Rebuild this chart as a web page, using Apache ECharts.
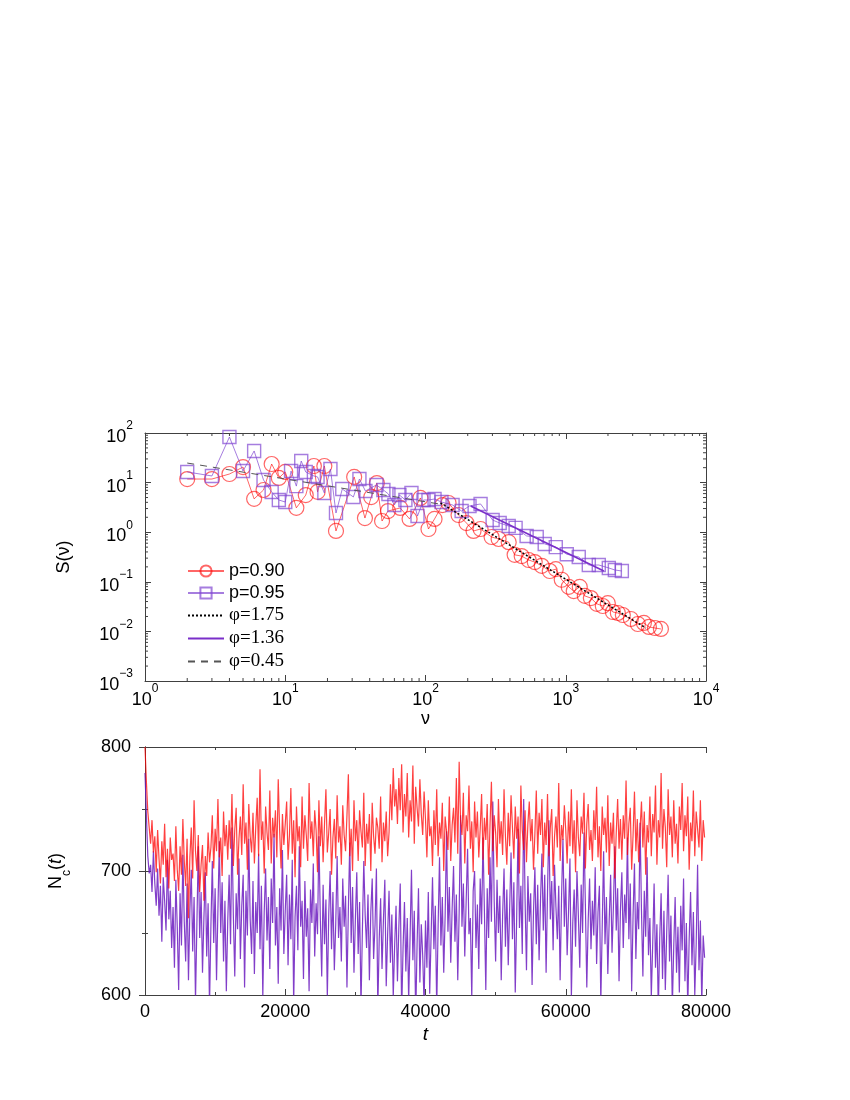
<!DOCTYPE html>
<html>
<head>
<meta charset="utf-8">
<script src="https://cdn.jsdelivr.net/npm/echarts@6/dist/echarts.min.js"></script>
<style>
  html, body { margin: 0; padding: 0; background: #fff; }
  #chart { width: 850px; height: 1100px; }
</style>
</head>
<body>
<div id="chart"></div>
<script>
// top panel: S(nu) for p=0.90 (circles) and p=0.95 (squares)
const nu90 = [2,3,4,5,6,7,8,9,10,12,14,16,17,19,23,31,37,41,45,49,54,66,77,92,105,116,132,146,172,196,220,247,296,332,392,432,485,544,601,674,769,849,936,1050,1140,1259,1367,1510,1665,1837,1995,2168,2352,2553,2911,3266,3606,3917,4324,4770];
const s90 = [11.8,11.8,14.9,20.6,4.7,7.1,23.7,12.4,16.4,3.1,5.6,21.6,6.5,21.6,1.06,13.0,1.93,5.1,9.8,1.68,2.67,3.08,1.85,4.9,1.16,1.85,3.53,3.88,2.22,1.53,1.06,1.16,0.80,0.73,0.63,0.35,0.33,0.275,0.25,0.21,0.165,0.18,0.11,0.079,0.065,0.079,0.052,0.047,0.036,0.0325,0.037,0.0246,0.0235,0.0214,0.0178,0.0141,0.0148,0.0123,0.0117,0.0112];
const nu95 = [2,3,4,5,6,7,8,9,10,11,12,13,14,16,17,19,21,23,25.5,30.6,33.8,37.3,44.7,50.1,54.4,60,65.2,71.9,79.4,87.7,96.8,105,116,130,156,181,206,247,301,338,392,439,526,621,708,849,1017,1238,1460,1720,2028,2239,2512];
const s95 = [16.4,13.6,83,17.1,43.4,11.3,6.46,4.46,4.06,17.1,8.5,27.2,16.4,13.6,13.0,6.17,18.8,2.44,7.43,5.13,11.8,6.78,8.95,7.1,5.89,3.53,5.62,4.46,6.17,2.12,4.46,4.46,4.67,4.06,3.53,2.67,3.38,3.71,1.76,1.53,1.33,1.22,0.84,0.80,0.58,0.50,0.36,0.316,0.218,0.218,0.19,0.173,0.165];

// fitted power laws, end points
const fit175Nu = [128, 3727], fit175S = [3.88, 0.0117];
const fit136Nu = [210, 1868], fit136S = [3.37, 0.165];
const fit045Nu = [2, 139], fit045S = [24.8, 3.53];

// bottom panel: N_c(t), one value every tStep (one row = 4000 steps)
const tStep = 200;
const ncRed = [
  800, 772, 748, 735, 722, 741, 715, 728, 699, 733, 710, 690, 724, 705, 738, 695, 718, 686, 727, 709,
  714, 692, 736, 701, 684, 720, 697, 742, 708, 688, 726, 662, 711, 735, 694, 757, 716, 700, 729, 683,
  705, 721, 676, 712, 696, 731, 707, 719, 745, 702, 734, 716, 758, 711, 727, 696, 748, 720, 737, 709,
  741, 718, 762, 704, 733, 751, 697, 726, 744, 713, 770, 722, 739, 701, 754, 728, 715, 747, 706, 736,
  759, 712, 782, 725, 740, 698, 752, 731, 717, 765, 706, 743, 727, 749, 711, 774, 733, 702, 746, 721,
  738, 756, 709, 729, 767, 714, 741, 695, 752, 724, 736, 703, 760, 718, 745, 729, 708, 771, 726, 740,
  712, 749, 733, 699, 757, 720, 744, 707, 738, 766, 715, 731, 750, 697, 727, 742, 710, 761, 723, 736,
  705, 753, 729, 716, 745, 778, 712, 734, 700, 757, 724, 741, 708, 749, 732, 719, 763, 704, 738, 722,
  746, 700, 755, 728, 714, 743, 735, 718, 760, 707, 739, 724, 748, 712, 731, 770, 741, 783, 752, 766,
  738, 775, 749, 786, 731, 762, 744, 779, 727, 757, 740, 785, 722, 768, 751, 736, 774, 746, 729, 764,
  742, 711, 757, 728, 736, 704, 749, 721, 766, 712, 739, 726, 755, 700, 744, 732, 717, 760, 708, 737,
  751, 723, 775, 714, 788, 741, 729, 763, 706, 745, 732, 769, 718, 740, 699, 756, 727, 748, 711, 734,
  762, 709, 743, 725, 754, 697, 737, 772, 716, 745, 731, 703, 758, 722, 740, 713, 766, 728, 705, 747,
  720, 761, 735, 710, 752, 726, 744, 698, 769, 733, 717, 749, 707, 738, 756, 724, 742, 701, 730, 765,
  714, 747, 729, 758, 703, 739, 721, 762, 712, 735, 750, 696, 728, 744, 719, 771, 708, 737, 725, 753,
  733, 706, 748, 720, 766, 714, 741, 699, 757, 727, 712, 744, 730, 763, 702, 738, 754, 717, 733, 708,
  749, 725, 768, 711, 736, 700, 752, 729, 743, 715, 761, 704, 739, 722, 747, 694, 731, 758, 718, 742,
  709, 745, 726, 773, 713, 738, 751, 701, 729, 764, 716, 742, 707, 734, 756, 719, 748, 697, 737, 723,
  760, 712, 746, 731, 769, 705, 741, 727, 779, 718, 750, 735, 703, 766, 729, 744, 711, 757, 722, 738,
  706, 752, 733, 771, 716, 745, 728, 760, 701, 739, 724, 765, 712, 748, 734, 719, 757, 708, 741, 727
];
const ncPurple = [
  779, 745, 712, 698, 705, 683, 716, 690, 672, 702, 664, 688, 643, 695, 676, 652, 709, 661, 684, 638,
  671, 622, 693, 655, 604, 682, 640, 713, 659, 627, 690, 612, 668, 701, 635, 679, 595, 657, 720, 646,
  683, 618, 662, 699, 631, 674, 590, 656, 708, 642, 686, 612, 669, 724, 650, 691, 627, 676, 603, 660,
  697, 641, 735, 664, 615, 682, 653, 710, 629, 672, 697, 606, 684, 648, 726, 661, 633, 692, 617, 675,
  650, 714, 637, 688, 598, 667, 702, 644, 679, 621, 694, 658, 730, 640, 671, 609, 686, 652, 717, 633,
  668, 697, 624, 681, 645, 709, 592, 663, 688, 636, 720, 655, 676, 613, 692, 647, 670, 603, 685, 658,
  706, 631, 674, 649, 728, 662, 615, 689, 641, 677, 598, 665, 700, 637, 683, 620, 657, 712, 646, 671,
  627, 694, 655, 680, 606, 669, 723, 642, 687, 618, 661, 699, 633, 675, 590, 652, 708, 664, 638, 681,
  612, 667, 694, 629, 656, 702, 588, 645, 678, 621, 660, 693, 607, 649, 684, 626, 665, 598, 640, 672,
  611, 655, 690, 584, 638, 675, 619, 662, 595, 647, 701, 628, 668, 580, 641, 686, 610, 657, 632, 592,
  660, 622, 683, 601, 648, 695, 637, 672, 589, 656, 711, 640, 679, 618, 664, 732, 651, 687, 626, 670,
  704, 643, 681, 612, 667, 745, 655, 690, 631, 676, 718, 649, 662, 597, 684, 700, 638, 673, 621, 694,
  657, 727, 668, 604, 686, 646, 711, 659, 756, 675, 627, 693, 650, 680, 612, 665, 702, 639, 685, 624,
  670, 715, 645, 691, 602, 662, 734, 654, 688, 633, 758, 677, 620, 696, 659, 682, 608, 667, 703, 641,
  689, 628, 676, 714, 652, 697, 618, 683, 741, 661, 692, 636, 705, 671, 645, 688, 612, 679, 726, 655,
  694, 632, 668, 710, 597, 658, 685, 639, 700, 664, 622, 689, 650, 731, 673, 606, 660, 694, 637, 676,
  648, 703, 625, 667, 688, 594, 655, 716, 641, 679, 617, 661, 697, 634, 672, 720, 652, 686, 611, 669,
  699, 638, 681, 658, 727, 645, 690, 603, 664, 706, 629, 675, 653, 739, 668, 615, 684, 647, 711, 632,
  662, 598, 641, 690, 622, 657, 586, 646, 682, 613, 668, 604, 651, 697, 627, 664, 590, 639, 679, 618,
  655, 602, 672, 636, 694, 611, 658, 589, 645, 683, 624, 667, 600, 641, 705, 620, 660, 592, 648, 630
];

// log minor tick positions (2..9 per decade)
const minorX = [], minorY = [];
for (let e = 0; e < 4; e++) for (let m = 2; m < 10; m++) minorX.push([m * Math.pow(10, e), 1]);
for (let e = -3; e < 2; e++) for (let m = 2; m < 10; m++) minorY.push([1, +(m * Math.pow(10, e)).toPrecision(3)]);

const FONT = 'Liberation Sans, Arial, sans-serif';
const SERIF = 'Liberation Serif, Times New Roman, serif';
const AXC = '#404040';
const RED = 'rgba(255,0,0,0.6)';
const PUR = 'rgba(128,70,210,0.7)';

function pow10(v) {
  const e = Math.round(Math.log10(v));
  return '{b|10}{s|' + (e < 0 ? '\u2212' + (-e) : e) + '}';
}
const powRich = {
  b: { fontSize: 18, fontFamily: FONT, color: '#000', lineHeight: 26, verticalAlign: 'bottom' },
  s: { fontSize: 12, fontFamily: FONT, color: '#000', verticalAlign: 'top' }
};

function frameAxis(extra) {
  return Object.assign({
    axisLine: { show: true, lineStyle: { color: AXC, width: 1 } },
    axisTick: { show: true, inside: true, length: 6, lineStyle: { color: AXC } },
    splitLine: { show: false },
    axisLabel: { show: false }
  }, extra);
}

function minorTicks(isX) {
  return function (params, api) {
    const p = api.coord([api.value(0), api.value(1)]);
    const cs = params.coordSys;
    const st = { stroke: AXC, lineWidth: 1 };
    if (isX) {
      return { type: 'group', children: [
        { type: 'line', shape: { x1: p[0], y1: cs.y + cs.height, x2: p[0], y2: cs.y + cs.height - 3 }, style: st },
        { type: 'line', shape: { x1: p[0], y1: cs.y, x2: p[0], y2: cs.y + 3 }, style: st }
      ] };
    }
    return { type: 'group', children: [
      { type: 'line', shape: { x1: cs.x, y1: p[1], x2: cs.x + 3, y2: p[1] }, style: st },
      { type: 'line', shape: { x1: cs.x + cs.width, y1: p[1], x2: cs.x + cs.width - 3, y2: p[1] }, style: st }
    ] };
  };
}

const chart = echarts.init(document.getElementById('chart'), null, { renderer: 'canvas' });

const hideSym = { opacity: 0 };
const option = {
  animation: false,
  backgroundColor: '#fff',
  grid: [
    { left: 145, top: 433, width: 561, height: 248 },
    { left: 145, top: 747, width: 561, height: 248 }
  ],
  legend: {
    data: [
      { name: 'p=0.90' },
      { name: 'p=0.95' },
      { name: '\u03c6=1.75', itemStyle: hideSym },
      { name: '\u03c6=1.36', itemStyle: hideSym },
      { name: '\u03c6=0.45', itemStyle: hideSym }
    ],
    orient: 'vertical',
    left: 182,
    top: 557,
    itemWidth: 36,
    itemHeight: 14,
    itemGap: 4,
    selectedMode: false,
    formatter: function (name) {
      return name.charAt(0) === 'p' ? '{s|' + name + '}' : '{g|' + name + '}';
    },
    textStyle: {
      rich: {
        s: { fontSize: 18, fontFamily: FONT, color: '#000', lineHeight: 18 },
        g: { fontSize: 19, fontFamily: SERIF, color: '#000', lineHeight: 18 }
      }
    }
  },
  xAxis: [
    frameAxis({
      type: 'log', gridIndex: 0, min: 1, max: 10000, logBase: 10, position: 'bottom',
      axisLabel: { show: true, margin: 2, formatter: pow10, rich: powRich },
      name: '\u03bd', nameLocation: 'middle', nameGap: 27,
      nameTextStyle: { fontSize: 18, fontFamily: FONT, color: '#000' }
    }),
    frameAxis({ type: 'log', gridIndex: 0, min: 1, max: 10000, logBase: 10, position: 'top' }),
    frameAxis({
      type: 'value', gridIndex: 1, min: 0, max: 80000, interval: 20000, position: 'bottom',
      minorTick: { show: true, splitNumber: 2, length: 3, lineStyle: { color: AXC } },
      axisLabel: { show: true, margin: 8, fontSize: 18, fontFamily: FONT, color: '#000',
        formatter: function (v) { return String(v); } },
      name: 't', nameLocation: 'middle', nameGap: 30,
      nameTextStyle: { fontSize: 19, fontFamily: FONT, fontStyle: 'italic', color: '#000' }
    }),
    frameAxis({
      type: 'value', gridIndex: 1, min: 0, max: 80000, interval: 20000, position: 'top',
      minorTick: { show: true, splitNumber: 2, length: 3, lineStyle: { color: AXC } }
    })
  ],
  yAxis: [
    frameAxis({
      type: 'log', gridIndex: 0, min: 0.001, max: 100, logBase: 10, position: 'left',
      axisLabel: { show: true, margin: 12, formatter: pow10, rich: powRich },
      name: 'S(\u03bd)', nameLocation: 'middle', nameGap: 72,
      nameTextStyle: { fontSize: 18, fontFamily: FONT, color: '#000' }
    }),
    frameAxis({ type: 'log', gridIndex: 0, min: 0.001, max: 100, logBase: 10, position: 'right' }),
    frameAxis({
      type: 'value', gridIndex: 1, min: 600, max: 800, interval: 100, position: 'left',
      minorTick: { show: true, splitNumber: 2, length: 3, lineStyle: { color: AXC } },
      axisLabel: { show: true, margin: 14, fontSize: 18, fontFamily: FONT, color: '#000' },
      name: '{n|N}{c|c}{n|(}{i|t}{n|)}', nameLocation: 'middle', nameGap: 72,
      nameTextStyle: {
        rich: {
          n: { fontSize: 18, fontFamily: FONT, color: '#000', lineHeight: 26, verticalAlign: 'top' },
          c: { fontSize: 12, fontFamily: FONT, color: '#000', verticalAlign: 'bottom' },
          i: { fontSize: 18, fontFamily: FONT, fontStyle: 'italic', color: '#000', lineHeight: 26, verticalAlign: 'top' }
        }
      }
    }),
    frameAxis({
      type: 'value', gridIndex: 1, min: 600, max: 800, interval: 100, position: 'right',
      minorTick: { show: true, splitNumber: 2, length: 3, lineStyle: { color: AXC } }
    })
  ],
  series: [
    {
      type: 'custom', xAxisIndex: 0, yAxisIndex: 0, silent: true, clip: false,
      renderItem: minorTicks(true), data: minorX, z: 1
    },
    {
      type: 'custom', xAxisIndex: 0, yAxisIndex: 0, silent: true, clip: false,
      renderItem: minorTicks(false), data: minorY, z: 1
    },
    {
      name: 'p=0.90', type: 'line', xAxisIndex: 0, yAxisIndex: 0,
      data: nu90.map((v, i) => [v, s90[i]]),
      symbol: 'circle', symbolSize: 15,
      itemStyle: { color: 'rgba(255,255,255,0)', borderColor: RED, borderWidth: 1.2 },
      lineStyle: { color: RED, width: 1 },
      z: 2
    },
    {
      name: 'p=0.95', type: 'line', xAxisIndex: 0, yAxisIndex: 0,
      data: nu95.map((v, i) => [v, s95[i]]),
      symbol: 'rect', symbolSize: 13,
      itemStyle: { color: 'rgba(255,255,255,0)', borderColor: PUR, borderWidth: 1.4 },
      lineStyle: { color: PUR, width: 1 },
      z: 3
    },
    {
      name: '\u03c6=1.75', type: 'line', xAxisIndex: 0, yAxisIndex: 0,
      data: fit175Nu.map((v, i) => [v, fit175S[i]]),
      symbol: 'none', lineStyle: { color: '#000', width: 1.5, type: [2, 2] },
      itemStyle: { color: '#000' }, z: 4
    },
    {
      name: '\u03c6=1.36', type: 'line', xAxisIndex: 0, yAxisIndex: 0,
      data: fit136Nu.map((v, i) => [v, fit136S[i]]),
      symbol: 'none', lineStyle: { color: '#7a2fc9', width: 1.6 },
      itemStyle: { color: '#7a2fc9' }, z: 4
    },
    {
      name: '\u03c6=0.45', type: 'line', xAxisIndex: 0, yAxisIndex: 0,
      data: fit045Nu.map((v, i) => [v, fit045S[i]]),
      symbol: 'none', lineStyle: { color: '#555', width: 1, type: [7, 6] },
      itemStyle: { color: '#555' }, z: 4
    },
    {
      type: 'line', xAxisIndex: 2, yAxisIndex: 2,
      data: ncPurple.map((v, i) => [i * tStep, v]),
      showSymbol: false, symbol: 'none',
      lineStyle: { color: 'rgba(108,28,192,0.85)', width: 1.2 },
      z: 2
    },
    {
      type: 'line', xAxisIndex: 2, yAxisIndex: 2,
      data: ncRed.map((v, i) => [i * tStep, v]),
      showSymbol: false, symbol: 'none',
      lineStyle: { color: 'rgba(255,0,0,0.75)', width: 1.2 },
      z: 3
    }
  ]
};

chart.setOption(option);
</script>
</body>
</html>
